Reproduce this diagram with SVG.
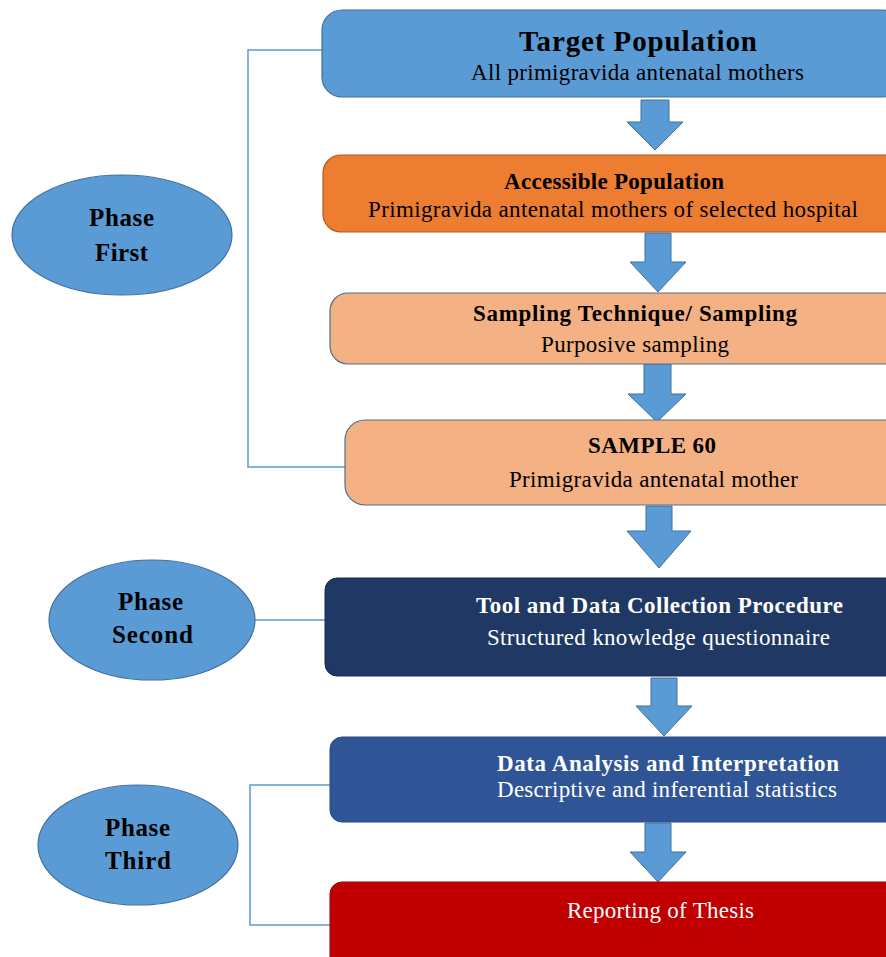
<svg xmlns="http://www.w3.org/2000/svg" width="886" height="957" viewBox="0 0 886 957">
<style>
text{text-anchor:middle}
.t{font-weight:bold;font-size:23px;fill:#000}
.s{font-size:23px;fill:#000}
.tw{font-weight:bold;font-size:23px;fill:#fff}
.sw{font-size:23px;fill:#fff}
.ph{font-weight:bold;font-size:25px;fill:#000}
.arr{fill:#5B9BD5;stroke:#41719C;stroke-width:1}
.ell{fill:#5B9BD5;stroke:#41719C;stroke-width:1.2}
.ln{fill:none;stroke:#5B9BD5;stroke-width:1.5}
</style>
<g id="connectors">
<path class="ln" d="M322,50 H248 V467 H345"/>
<path class="ln" d="M255,620 H325"/>
<path class="ln" d="M330,785 H250 V925 H330"/>
<path class="arr" d="M641,100 H669 V122 H683 L655,150 L627,122 H641 Z"/>
<path class="arr" d="M645,233 H671 V262 H686 L658,292 L630,262 H645 Z"/>
<path class="arr" d="M644,364 H671 V394 H686 L657,422 L628,394 H644 Z"/>
<path class="arr" d="M646,506 H672 V531 H691 L659,568 L627,531 H646 Z"/>
<path class="arr" d="M651,678 H677 V706 H692 L664,736 L636,706 H651 Z"/>
<path class="arr" d="M645,823 H671 V852 H686 L658,882 L630,852 H645 Z"/>
</g>
<g font-family="'Liberation Serif', 'Times New Roman', 'DejaVu Serif', serif" lengthAdjust="spacing">
<g id="target">
<rect x="322" y="10" width="580" height="87" rx="20" fill="#5B9BD5" stroke="#41719C" stroke-width="1.2"/>
<text class="t" x="638" y="51" style="font-size:29px" textLength="238">Target Population</text>
<text class="s" x="637.5" y="80" textLength="333">All primigravida antenatal  mothers</text>
</g>
<g id="accessible">
<rect x="323" y="155" width="580" height="77" rx="18" fill="#ED7D31" stroke="#AE5A21" stroke-width="1.2"/>
<text class="t" x="614" y="189" textLength="220">Accessible Population</text>
<text class="s" x="613" y="217" textLength="490">Primigravida antenatal mothers of selected hospital</text>
</g>
<g id="sampling">
<rect x="330" y="293" width="575" height="71" rx="18" fill="#F4B183" stroke="#4E6E8E" stroke-width="1.2"/>
<text class="t" x="635" y="321" textLength="324">Sampling Technique/ Sampling</text>
<text class="s" x="635" y="352" textLength="188">Purposive sampling</text>
</g>
<g id="sample60">
<rect x="345" y="420" width="560" height="85" rx="20" fill="#F4B183" stroke="#4E6E8E" stroke-width="1.2"/>
<text class="t" x="652" y="453" textLength="128">SAMPLE 60</text>
<text class="s" x="653.5" y="487" textLength="289">Primigravida antenatal mother</text>
</g>
<g id="tool">
<rect x="325" y="578" width="580" height="98" rx="12" fill="#203864" stroke="#1A2C50" stroke-width="1"/>
<text class="tw" x="659.5" y="613" textLength="367">Tool and Data Collection Procedure</text>
<text class="sw" x="658.5" y="645" textLength="343">Structured knowledge questionnaire</text>
</g>
<g id="analysis">
<rect x="330" y="737" width="575" height="85" rx="12" fill="#2F5597" stroke="#2A4A80" stroke-width="1"/>
<text class="tw" x="668" y="771" textLength="342">Data Analysis and Interpretation</text>
<text class="sw" x="667" y="797" textLength="340">Descriptive and inferential statistics</text>
</g>
<g id="reporting">
<rect x="330" y="882" width="575" height="90" rx="12" fill="#C00000" stroke="#9A0000" stroke-width="1"/>
<text class="sw" x="660.5" y="918" textLength="187">Reporting of Thesis</text>
</g>
<g id="phase1">
<ellipse class="ell" cx="122" cy="235" rx="110" ry="60"/>
<text class="ph" x="121.5" y="226" textLength="65">Phase</text>
<text class="ph" x="121.5" y="261" textLength="53">First</text>
</g>
<g id="phase2">
<ellipse class="ell" cx="152" cy="620" rx="103" ry="60"/>
<text class="ph" x="150.5" y="610" textLength="65">Phase</text>
<text class="ph" x="152.5" y="643" textLength="81">Second</text>
</g>
<g id="phase3">
<ellipse class="ell" cx="138" cy="845" rx="100" ry="60"/>
<text class="ph" x="137.5" y="836" textLength="65">Phase</text>
<text class="ph" x="138" y="869" textLength="66">Third</text>
</g>
</g>
</svg>
